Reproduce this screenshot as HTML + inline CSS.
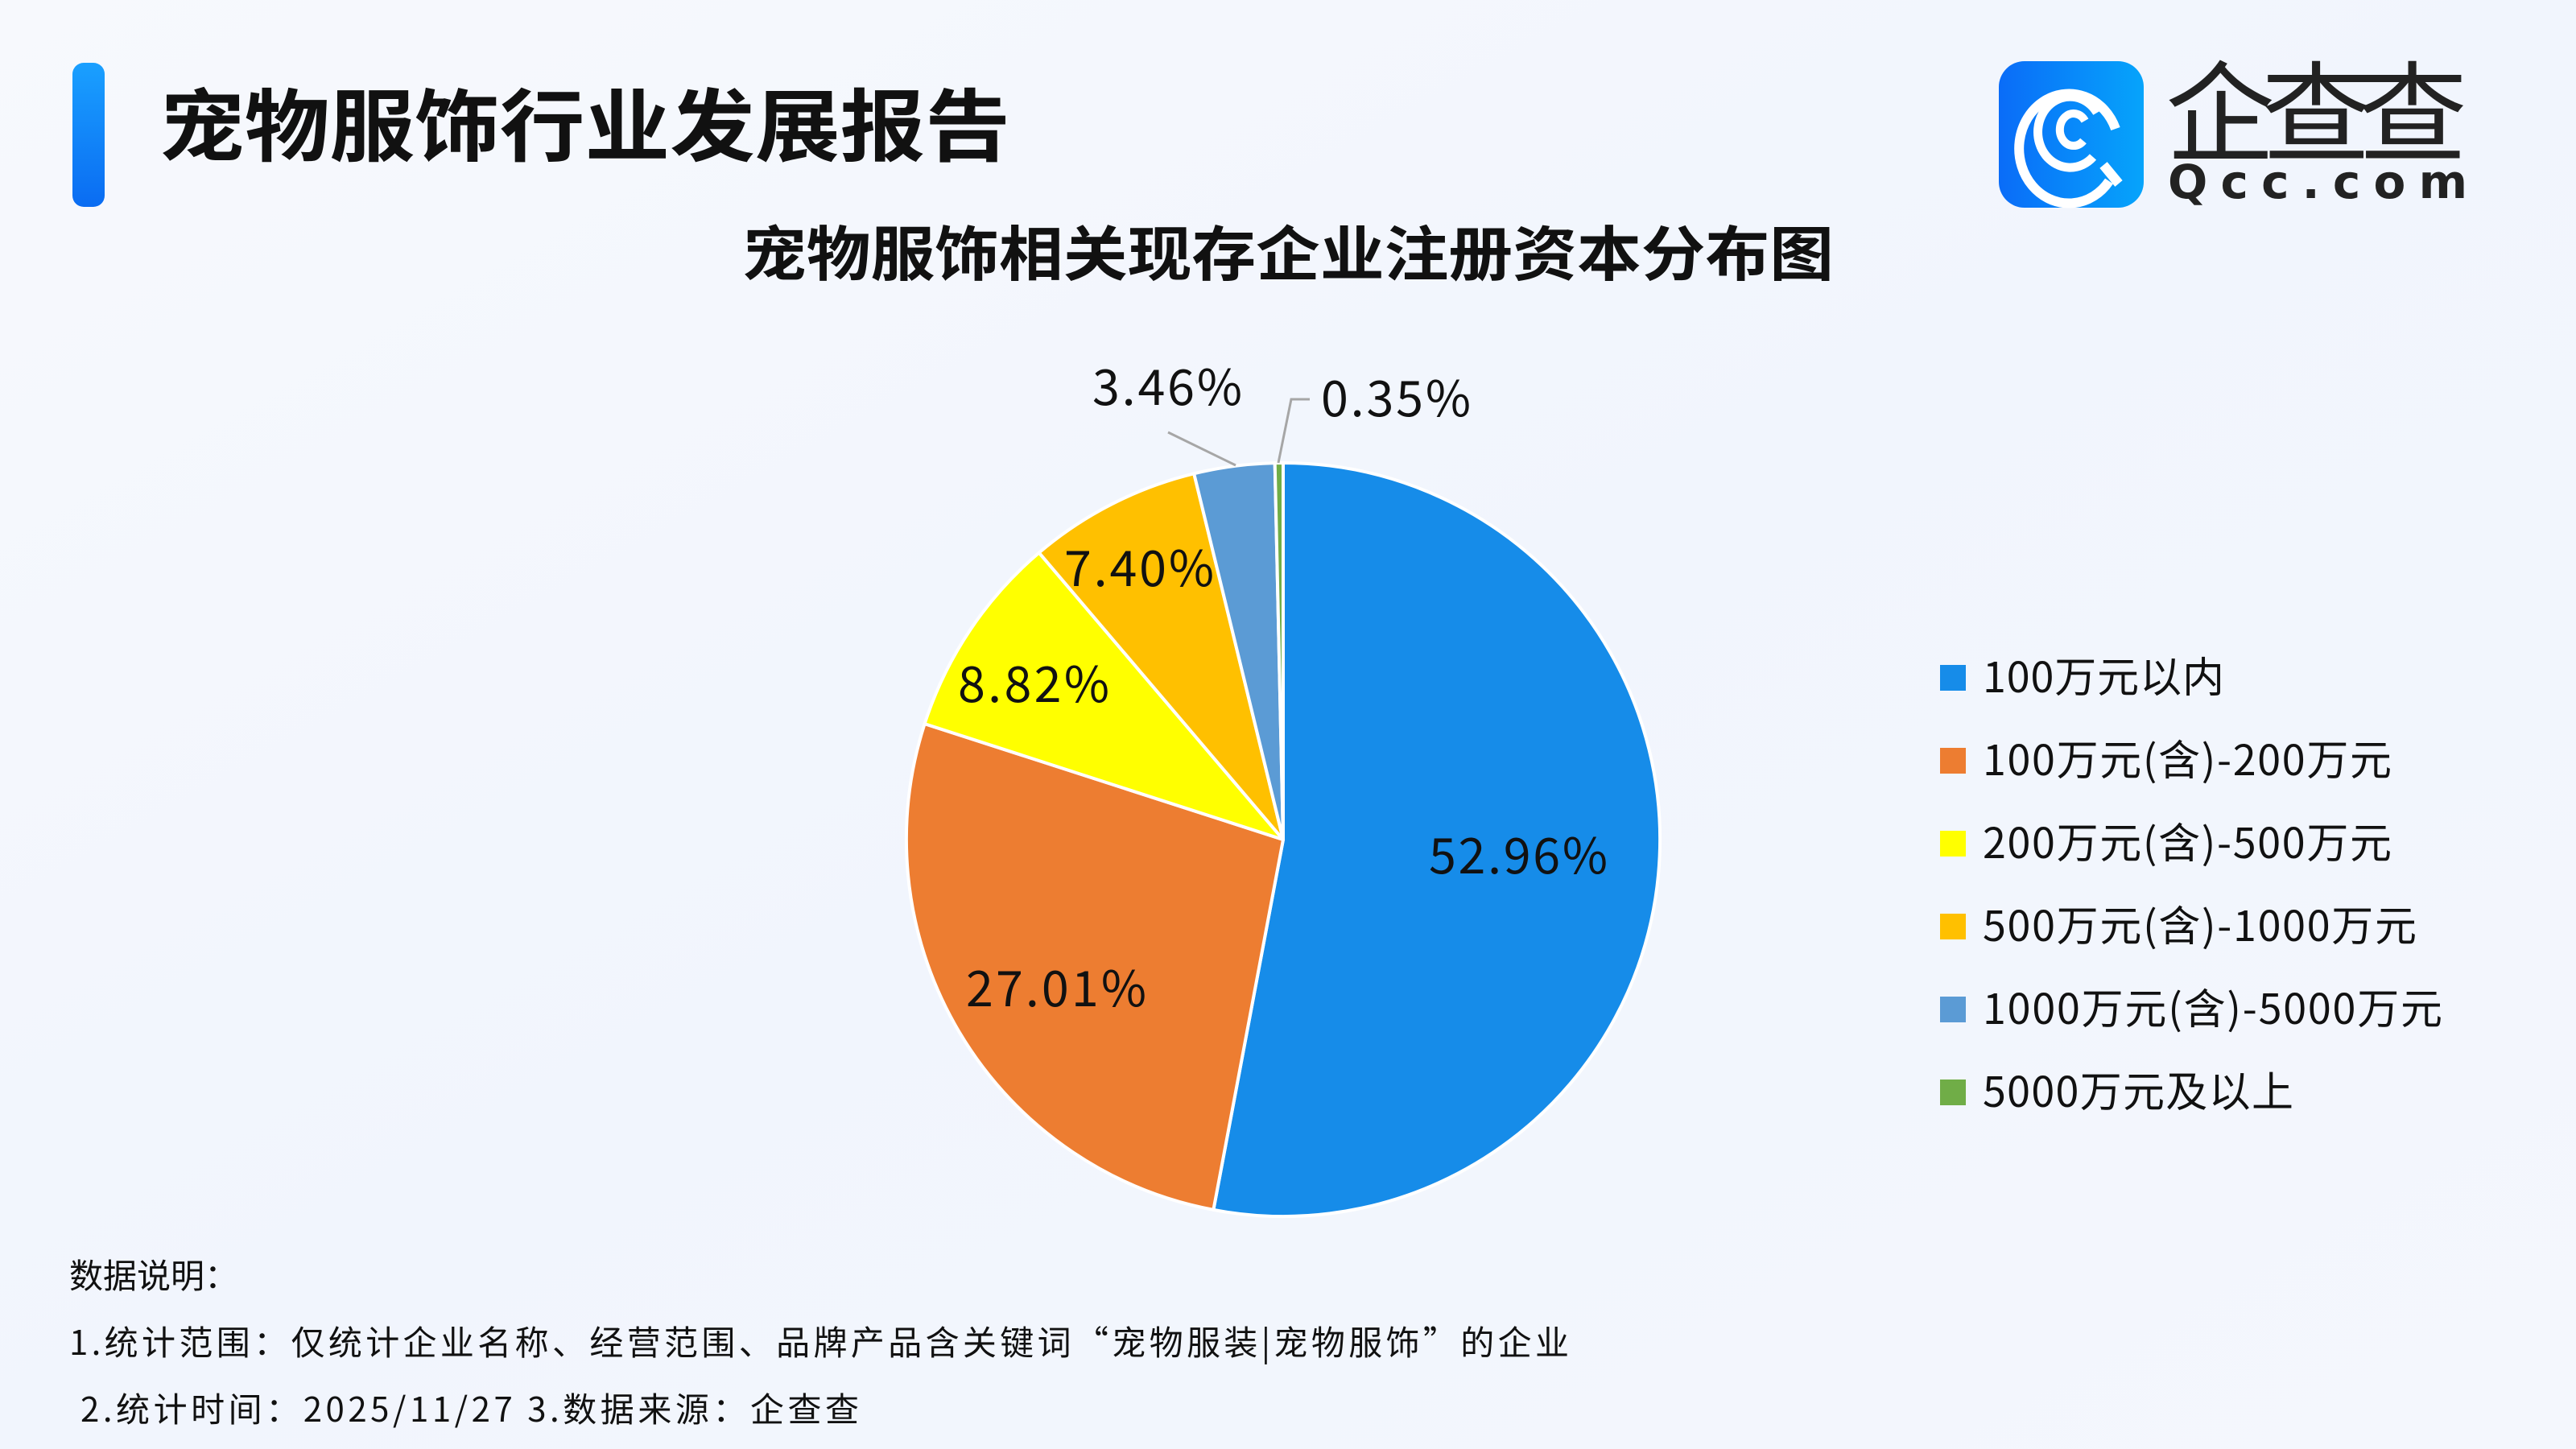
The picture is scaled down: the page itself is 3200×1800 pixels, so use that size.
<!DOCTYPE html>
<html><head><meta charset="utf-8"><style>
body{margin:0;width:3200px;height:1800px;overflow:hidden;font-family:"Noto Sans CJK SC",sans-serif;}
</style></head><body>
<svg width="3200" height="1800" viewBox="0 0 3200 1800" xmlns="http://www.w3.org/2000/svg" style="display:block" font-family="Noto Sans CJK SC,sans-serif">
<defs>
<linearGradient id="bg" x1="0" y1="0" x2="1" y2="1">
<stop offset="0" stop-color="#f7f9fd"/><stop offset="0.5" stop-color="#f1f5fd"/><stop offset="1" stop-color="#f4f7fd"/></linearGradient>
<linearGradient id="bar" x1="0" y1="0" x2="0" y2="1"><stop offset="0" stop-color="#1aa0ff"/><stop offset="1" stop-color="#0a6cf2"/></linearGradient>
<linearGradient id="ic" x1="0" y1="0" x2="1" y2="0"><stop offset="0" stop-color="#0a6cf8"/><stop offset="1" stop-color="#06a4fb"/></linearGradient>
</defs>
<rect width="3200" height="1800" fill="url(#bg)"/>
<rect x="90" y="78" width="40" height="179" rx="14" fill="url(#bar)"/>
<text x="198" y="192" font-size="98" font-weight="bold" fill="#111" textLength="1057" lengthAdjust="spacingAndGlyphs">宠物服饰行业发展报告</text>
<!-- logo -->
<rect x="2483" y="76" width="180" height="182" rx="32" fill="url(#ic)"/>
<g fill="none" stroke="#fff" stroke-linecap="butt">
<path d="M2620 225 A62 68 0 1 1 2628 160" stroke-width="12"/>
<path d="M2600 195 A40 44 0 1 1 2605 140" stroke-width="11"/>
<path d="M2588 175 A17 20 0 1 1 2590 150" stroke-width="10"/>
<path d="M2613 205 L2632 228" stroke-width="12"/>
</g>
<text x="2690" y="190" font-size="136" fill="#222" textLength="375">企查查</text>
<text x="2693" y="246" font-size="58" fill="#222" textLength="372" font-family="DejaVu Sans,sans-serif" font-weight="bold">Qcc.com</text>
<text x="1600" y="342" font-size="74" font-weight="bold" fill="#111" text-anchor="middle" textLength="1356" lengthAdjust="spacingAndGlyphs">宠物服饰相关现存企业注册资本分布图</text>
<!-- pie -->
<g stroke="#fff" stroke-width="4" stroke-linejoin="round">
<path d="M1594 1043 L1594 575 A468 468 0 1 1 1507.4 1502.9 Z" fill="#168ce9"/>
<path d="M1594 1043 L1507.4 1502.9 A468 468 0 0 1 1148.6 899.1 Z" fill="#ed7d31"/>
<path d="M1594 1043 L1148.6 899.1 A468 468 0 0 1 1290.7 686.6 Z" fill="#ffff00"/>
<path d="M1594 1043 L1290.7 686.6 A468 468 0 0 1 1483.2 588.3 Z" fill="#ffc000"/>
<path d="M1594 1043 L1483.2 588.3 A468 468 0 0 1 1583.7 575.1 Z" fill="#5b9bd5"/>
<path d="M1594 1043 L1583.7 575.1 A468 468 0 0 1 1594 575 Z" fill="#70ad47"/>
</g>
<g stroke="#a6a6a6" stroke-width="3" fill="none">
<path d="M1451 537 L1535 578"/>
<path d="M1588 575 L1604 496 L1627 496"/>
</g>
<g font-size="61" fill="#111" text-anchor="middle" lengthAdjust="spacingAndGlyphs">
<text x="1886" y="1085" textLength="222">52.96%</text>
<text x="1312" y="1250" textLength="224">27.01%</text>
<text x="1284" y="872" textLength="188">8.82%</text>
<text x="1415" y="728" textLength="186">7.40%</text>
<text x="1450" y="503" textLength="186">3.46%</text>
<text x="1734" y="517" textLength="186">0.35%</text>
</g>
<!-- legend -->
<g font-size="52" fill="#111">
<rect x="2410" y="826" width="32" height="32" fill="#168ce9"/><text x="2463" y="860" textLength="300">100万元以内</text>
<rect x="2410" y="929" width="32" height="32" fill="#ed7d31"/><text x="2463" y="963" textLength="508">100万元(含)-200万元</text>
<rect x="2410" y="1032" width="32" height="32" fill="#ffff00"/><text x="2463" y="1066" textLength="508">200万元(含)-500万元</text>
<rect x="2410" y="1135" width="32" height="32" fill="#ffc000"/><text x="2463" y="1169" textLength="539">500万元(含)-1000万元</text>
<rect x="2410" y="1238" width="32" height="32" fill="#5b9bd5"/><text x="2463" y="1272" textLength="571">1000万元(含)-5000万元</text>
<rect x="2410" y="1341" width="32" height="32" fill="#70ad47"/><text x="2463" y="1375" textLength="386">5000万元及以上</text>
</g>
<g font-size="42" fill="#111">
<text x="86" y="1600" textLength="210">数据说明：</text>
<text x="86" y="1683" textLength="1863">1.统计范围：仅统计企业名称、经营范围、品牌产品含关键词“宠物服装|宠物服饰”的企业</text>
<text x="100" y="1766" textLength="967">2.统计时间：2025/11/27  3.数据来源：企查查</text>
</g>
</svg>
</body></html>
